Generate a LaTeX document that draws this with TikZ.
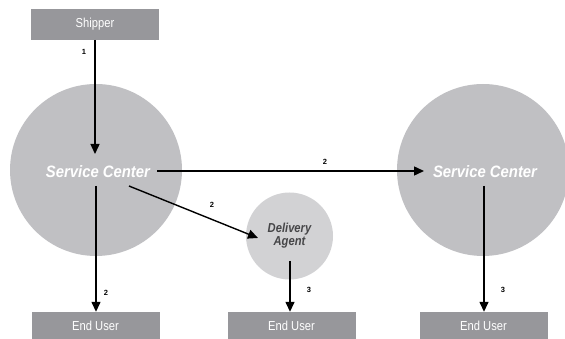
\documentclass[tikz,border=0pt]{standalone}
\usepackage{fontspec}
\setmainfont{Liberation Sans}
\newfontfamily\narrowsans[FakeStretch=0.86]{Liberation Sans}
\newfontfamily\hubsans[FakeStretch=0.9]{Liberation Sans}
\usetikzlibrary{arrows.meta}
\definecolor{boxgray}{RGB}{151,151,155}
\definecolor{hubgray}{RGB}{192,192,195}
\definecolor{agentgray}{RGB}{210,210,212}
\definecolor{agenttext}{RGB}{70,70,72}
\begin{document}
\begin{tikzpicture}[x=1pt,y=-1pt,
  party/.style={rectangle,fill=boxgray,text=white,inner sep=0pt,
    minimum width=128pt,font=\narrowsans\fontsize{13}{15}\selectfont},
  hub/.style={circle,fill=hubgray,inner sep=0pt,minimum size=172pt},
  hubtext/.style={text=white,font=\hubsans\fontsize{16.5}{19}\selectfont\bfseries\itshape},
  agent/.style={circle,fill=agentgray,inner sep=0pt,minimum size=87pt,
    text=agenttext,align=center,font=\narrowsans\fontsize{13}{15}\selectfont\bfseries\itshape},
  flow/.style={line width=1.4pt,-{Triangle[length=10pt,width=9pt]}},
  num/.style={font=\fontsize{7.5}{9}\selectfont\bfseries}]
\useasboundingbox (0,0) rectangle (565,339);
% sender, hubs and delivery agent
\node[party,minimum height=31pt] (shipper) at (95,24.5) {Shipper};
\node[hub] (hubA) at (96,170) {};
\node[hubtext] (hubAt) at (98,172) {Service Center};
\node[hub] (hubB) at (483,170) {};
\node[hubtext] (hubBt) at (485,172) {Service Center};
\node[agent] (agent) at (289.5,236) {Delivery\\[-2pt]Agent};
% receivers
\node[party,minimum height=28pt] (userA) at (95.5,326) {End User};
\node[party,minimum height=28pt] (userB) at (291.5,326) {End User};
\node[party,minimum height=28pt] (userC) at (483.5,326) {End User};
% start points of the flows inside the circles
\coordinate (aDown) at (96,186);
\coordinate (aRight) at (157,171);
\coordinate (aDiag) at (129,186);
\coordinate (agDown) at (290,261);
\coordinate (bDown) at (484,186);
\coordinate (shipDown) at (95,40);
% flows
\draw[flow] (shipDown) -- (95,154) coordinate (aTop);
\draw[flow] (aRight) -- (424,171);
\draw[flow] (aDiag) -- (258,238);
\draw[flow] (aDown) -- (userA.north -| aDown);
\draw[flow] (agDown) -- (userB.north -| agDown);
\draw[flow] (bDown) -- (userC.north -| bDown);
% flow numbers
\node[num] at (84,52) {1};
\node[num] at (325,162) {2};
\node[num] at (212,205) {2};
\node[num] at (106,293) {2};
\node[num] at (309,290) {3};
\node[num] at (503,290) {3};
\end{tikzpicture}
\end{document}
